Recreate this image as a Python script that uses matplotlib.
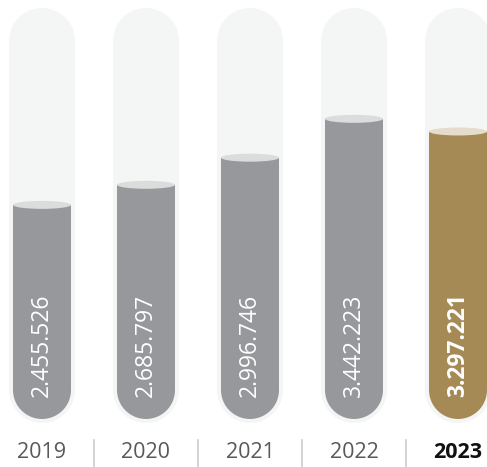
import numpy as np
import matplotlib.pyplot as plt
from matplotlib.patches import Polygon, Ellipse

years = ["2019", "2020", "2021", "2022", "2023"]
values = [2455.526, 2685.797, 2996.746, 3442.223, 3297.221]
labels = ["2.455.526", "2.685.797", "2.996.746", "3.442.223", "3.297.221"]

# pixel scale of the reference
px_x = 104.0      # pixels per category
px_y = 0.0872     # pixels per unit of value

W, H = 487, 467
fig = plt.figure(figsize=(W / 100, H / 100), dpi=100)
ax = fig.add_axes([0, 0, 1, 1])
ax.set_xlim(-42 / px_x, (W - 42) / px_x)
ax.set_ylim(-(H - 419) / px_y, 419 / px_y)
ax.axis("off")

plt.rcParams['font.family'] = ['Open Sans', 'DejaVu Sans']


def capsule(xc, y0, y1, half_w_px, top_round=True, n=40):
    # rounded shape in data units, radius given in pixels
    rx = half_w_px / px_x
    ry = half_w_px / px_y
    pts = []
    # bottom arc: left -> bottom -> right
    for a in np.linspace(np.pi, 2 * np.pi, n):
        pts.append((xc + rx * np.cos(a), y0 + ry + ry * np.sin(a)))
    if top_round:
        # top arc: right -> top -> left
        for a in np.linspace(0, np.pi, n):
            pts.append((xc + rx * np.cos(a), y1 - ry + ry * np.sin(a)))
    else:
        pts.append((xc + rx, y1))
        pts.append((xc - rx, y1))
    return np.array(pts)


top_val = 411 / px_y
bot_val = -4 / px_y

for i, (yr, v, lab) in enumerate(zip(years, values, labels)):
    last = i == len(years) - 1
    bar_c = "#a68a55" if last else "#97989c"
    cap_c = "#e6dccb" if last else "#dcdcdc"

    # background tube
    ax.add_patch(Polygon(capsule(i, bot_val, top_val, 33), closed=True,
                         facecolor="#f4f6f6", edgecolor="none", zorder=1))
    # filled bar
    ax.add_patch(Polygon(capsule(i, 0, v, 29, top_round=False), closed=True,
                         facecolor=bar_c, edgecolor="none", zorder=2))
    ax.add_patch(Ellipse((i, v), 58 / px_x, 8 / px_y, facecolor=cap_c,
                         edgecolor="none", zorder=3))

    ax.text(i, 22 / px_y, lab, rotation=90, ha="center", va="bottom",
            color="white", fontsize=16.5,
            fontweight="bold" if last else "normal", zorder=4)
    ax.text(i, -34 / px_y, yr, ha="center", va="center",
            color="#111111" if last else "#595959", fontsize=15.5,
            fontweight="bold" if last else "normal")
    if i > 0:
        ax.plot([i - 0.5, i - 0.5], [-21 / px_y, -48 / px_y], color="#cccccc",
                lw=1.2)

fig.savefig("out.png", dpi=100)
